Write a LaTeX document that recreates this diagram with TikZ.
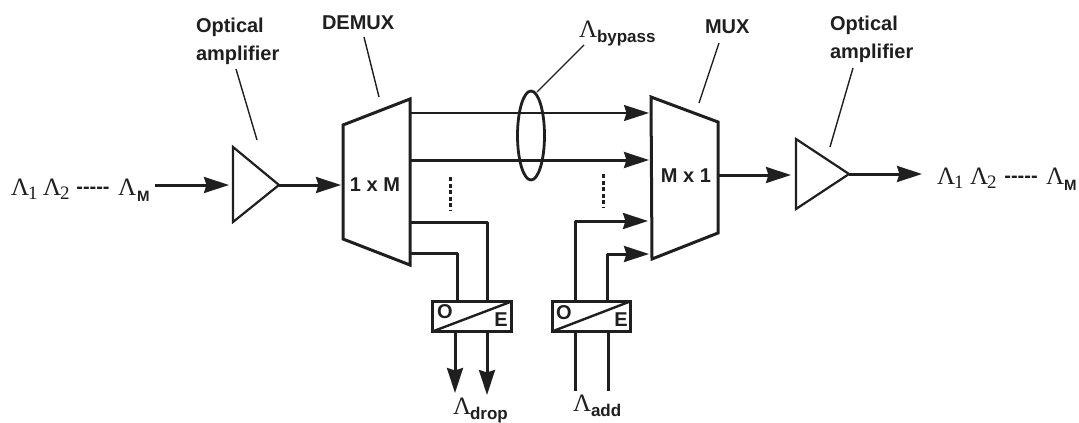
\documentclass[tikz,border=0pt]{standalone}
\usepackage{fontspec}
\setmainfont{Liberation Sans}
\newfontfamily\lamfont{Liberation Serif}
\usetikzlibrary{arrows.meta,calc}
\definecolor{ink}{gray}{0.12}
\tikzset{
  x=1pt,y=-1pt,
  every node/.style={text=ink,inner sep=0pt,outer sep=0pt},
  lbl/.style={font=\bfseries\fontsize{20}{28}\selectfont,align=left,anchor=west},
  inlbl/.style={font=\bfseries\fontsize{20}{22}\selectfont},
  oelbl/.style={font=\bfseries\fontsize{20}{20}\selectfont},
  sub/.style={font=\bfseries\fontsize{17}{20}\selectfont,anchor=base west},
  msub/.style={font=\bfseries\fontsize{15}{20}\selectfont,anchor=base west},
  lam/.style={font=\lamfont\fontsize{25}{25}\selectfont,anchor=base west},
  numsub/.style={font=\lamfont\fontsize{19}{20}\selectfont,anchor=base west},
  dashlbl/.style={font=\bfseries\fontsize{20}{20}\selectfont},
  body/.style={draw=ink,line width=3pt,line join=miter},
  thinbody/.style={draw=ink,line width=2.2pt,line join=miter},
  wire/.style={draw=ink,line width=3pt,line join=round},
  thinwire/.style={draw=ink,line width=1.5pt},
  arrow/.style={-{Stealth[length=25pt,width=16pt,inset=2.5pt]}},
  leader/.style={draw=ink,line width=1.4pt},
  dots/.style={draw=ink,line width=3pt,dash pattern=on 4pt off 2.5pt},
}
\begin{document}
\begin{tikzpicture}
\useasboundingbox (0,0) rectangle (1079,423);
% key points
\coordinate (inS) at (155,185);
\coordinate (a1T) at (233,147); \coordinate (a1B) at (233,222); \coordinate (a1E) at (279,185);
\coordinate (dTL) at (343,125); \coordinate (dTR) at (410,99); \coordinate (dBR) at (410,265); \coordinate (dBL) at (343,239);
\coordinate (dW) at (341,185);
\coordinate (mTL) at (651,97); \coordinate (mTR) at (718,122); \coordinate (mBR) at (718,233); \coordinate (mBL) at (652,259);
\coordinate (mE) at (718,175);
\coordinate (a2T) at (796,139); \coordinate (a2B) at (796,209); \coordinate (a2E) at (849,174);
\coordinate (outE) at (922,174);
% amplifiers
\draw[thinbody] (a1T) -- (a1E) -- (a1B) -- cycle;
\draw[thinbody] (a2T) -- (a2E) -- (a2B) -- cycle;
% demux, mux
\draw[body] (dTL) -- (dTR) -- (dBR) -- (dBL) -- cycle;
\draw[body] (mTL) -- (mTR) -- (mBR) -- (mBL) -- cycle;
\node[inlbl] (dlab) at (375,185) {1 x M};
\node[inlbl] (mlab) at (686,176) {M x 1};
% main path
\draw[wire,arrow] (inS) -- (229,185);
\draw[wire,arrow] (a1E) -- (dW);
\draw[wire,arrow] (mE) -- (791,175);
\draw[wire,arrow] (a2E) -- (outE);
% bypass
\draw[thinwire,arrow] (dTR |- 0,113) -- (649,113);
\draw[wire,arrow] (dTR |- 0,160) -- (649,160);
\draw[draw=ink,line width=2.8pt] (531,135.5) ellipse [x radius=13.5,y radius=44.5];
\draw[dots] (450,177) -- (450,210);
\draw[dots] (603,174) -- (603,208);
% OE boxes
\node[draw=ink,line width=3pt,minimum width=79pt,minimum height=30pt,anchor=north west] (oe1) at (432.5,301.5) {};
\node[draw=ink,line width=3pt,minimum width=78pt,minimum height=30pt,anchor=north west] (oe2) at (552,301.5) {};
\draw[draw=ink,line width=2.4pt] (oe1.south west) -- (oe1.north east);
\draw[draw=ink,line width=2.4pt] (oe2.south west) -- (oe2.north east);
\node[oelbl] (o1) at (445,312) {O};
\node[oelbl] (e1) at (501,320) {E};
\node[oelbl] (o2) at (564,313) {O};
\node[oelbl] (e2) at (621,320) {E};
% drop
\draw[wire] (dTR |- 0,222) -| (oe1.north -| 487,0);
\draw[wire] (dTR |- 0,253) -| (oe1.north -| 457,0);
\draw[wire,arrow] (oe1.south -| 455,0) -- (455,393);
\draw[wire,arrow] (oe1.south -| 487,0) -- (487,395);
% add
\draw[wire,arrow] (oe2.north -| 575,0) |- (648,221);
\draw[wire,arrow] (oe2.north -| 607,0) |- (649,254);
\coordinate (addA) at (575,391); \coordinate (addB) at (608,391);
\draw[wire] (oe2.south -| addA) -- (addA);
\draw[wire] (oe2.south -| addB) -- (addB);
% labels
\node[lbl] (oa1) at (196,41) {Optical\\amplifier};
\node[lbl] (dem) at (322,23) {DEMUX};
\node[lbl] (mux) at (705,27) {MUX};
\node[lbl] (oa2) at (830,39) {Optical\\amplifier};
% leaders
\coordinate (l1a) at (236,69); \coordinate (l1b) at (257,140);
\coordinate (l2a) at (364,37); \coordinate (l2b) at (379,97);
\coordinate (l3a) at (584,45); \coordinate (l3b) at (537,92);
\coordinate (l4a) at (719,43); \coordinate (l4b) at (699,103);
\coordinate (l5a) at (853,68); \coordinate (l5b) at (830,147);
\draw[leader] (l1a) -- (l1b);
\draw[leader] (l2a) -- (l2b);
\draw[leader] (l3a) -- (l3b);
\draw[leader] (l4a) -- (l4b);
\draw[leader] (l5a) -- (l5b);
% lambda text
\node[lam] (i1) at (11,195) {Λ};
\node[numsub] (i1s) at (28,199) {1};
\node[lam] (i2) at (43,195) {Λ};
\node[numsub] (i2s) at (60,199) {2};
\node[dashlbl] (i3) at (93,190) {{-}{-}{-}{-}{-}};
\node[lam] (i4) at (118,195) {Λ};
\node[msub] (i4s) at (137,201) {M};
\node[lam] (o1l) at (937,184) {Λ};
\node[numsub] (o1s) at (954,188) {1};
\node[lam] (o2l) at (970,184) {Λ};
\node[numsub] (o2s) at (987,188) {2};
\node[dashlbl] (o3) at (1021,179) {{-}{-}{-}{-}{-}};
\node[lam] (o4l) at (1046,184) {Λ};
\node[msub] (o4s) at (1064,190) {M};
\node[lam] (bl) at (579,37) {Λ};
\node[sub] (bs) at (597,42) {bypass};
\node[lam] (dl) at (453,414) {Λ};
\node[sub] (ds) at (470,419) {drop};
\node[lam] (al) at (573,411) {Λ};
\node[sub] (as) at (591,416) {add};
\end{tikzpicture}
\end{document}
